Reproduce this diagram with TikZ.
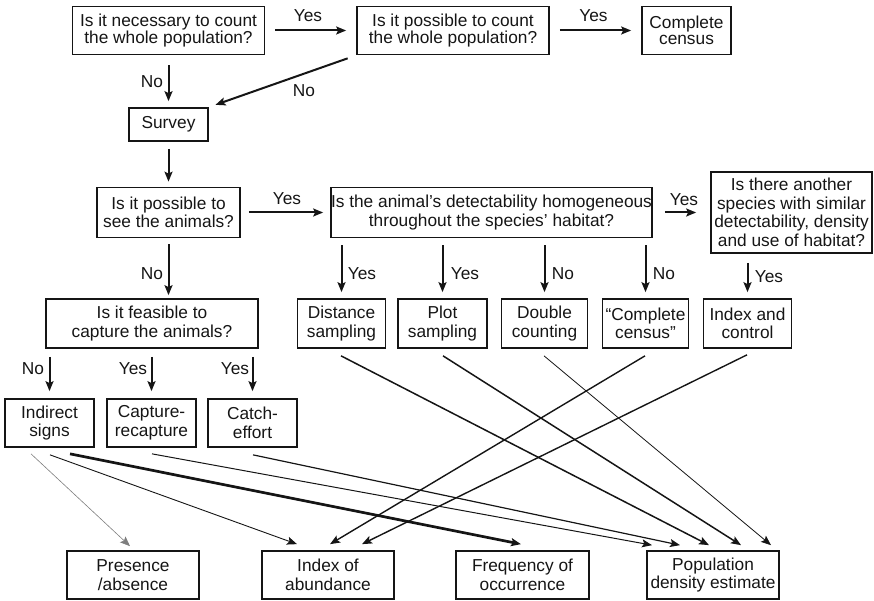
\documentclass[tikz,border=0pt]{standalone}
\usepackage{fontspec}
\setmainfont{Liberation Sans}
\usetikzlibrary{arrows.meta,calc}
\definecolor{ink}{HTML}{151515}
\begin{document}
\begin{tikzpicture}[x=1pt,y=-1pt,
  box/.style={draw=ink,line width=1.7pt,inner sep=0pt,align=center,text=ink,
    font=\fontsize{17.3}{18.5}\selectfont},
  topbox/.style={box,font=\fontsize{17.3}{16}\selectfont},
  tip/.style={-{Stealth[length=10pt,width=8pt,inset=2pt]}},
  arr/.style={draw=ink,line width=2pt,tip},
  cross/.style={draw=ink,tip},
  lbl/.style={text=ink,font=\fontsize{17.3}{18.5}\selectfont,inner sep=0pt}
]
\useasboundingbox (0,0) rectangle (874,601);

% top row
\node[topbox,minimum width=192pt,minimum height=48pt] (n1) at (168.5,30.5) {Is it necessary to count\\the whole population?};
\node[topbox,minimum width=192pt,minimum height=48pt] (n2) at (453,30.5) {Is it possible to count\\the whole population?};
\node[topbox,minimum width=89pt,minimum height=48pt] (cc) at (686.5,30.5) {Complete\\census};
\node[box,minimum width=79pt,minimum height=33pt] (survey) at (168.5,124.5) {Survey};

% second level
\node[box,minimum width=143pt,minimum height=50pt] (see) at (168.5,212.5) {Is it possible to\\see the animals?};
\node[box,minimum width=321pt,minimum height=50pt] (det) at (491.5,212.5) {Is the animal’s detectability homogeneous\\throughout the species’ habitat?};
\node[box,minimum width=161pt,minimum height=81pt] (another) at (791.5,212.5) {Is there another\\species with similar\\detectability, density\\and use of habitat?};

% third level
\node[box,minimum width=212pt,minimum height=49pt] (feasible) at (152,323.5) {Is it feasible to\\capture the animals?};
\node[box,minimum width=88pt,minimum height=49pt] (dist) at (341.5,323.5) {Distance\\sampling};
\node[box,minimum width=89pt,minimum height=49pt] (plot) at (442.5,323.5) {Plot\\sampling};
\node[box,minimum width=86pt,minimum height=49pt] (double) at (544.5,323.5) {Double\\counting};
\node[box,minimum width=86pt,minimum height=49pt] (ccq) at (645.5,323.5) {“Complete\\census”};
\node[box,minimum width=88pt,minimum height=49pt] (index) at (747.5,323.5) {Index and\\control};

% fourth level
\node[box,minimum width=89pt,minimum height=48pt] (indirect) at (49.5,423) {Indirect\\signs};
\node[box,minimum width=89pt,minimum height=48pt] (capture) at (151.5,423) {Capture-\\recapture};
\node[box,minimum width=89pt,minimum height=48pt] (catch) at (252.5,423) {Catch-\\effort};

% results
\node[box,minimum width=132pt,minimum height=48pt] (presence) at (133,575) {Presence\\/absence};
\node[box,minimum width=132pt,minimum height=48pt] (abundance) at (328,575) {Index of\\abundance};
\node[box,minimum width=133pt,minimum height=48pt] (freq) at (522.5,575) {Frequency of\\occurrence};
\node[box,minimum width=132pt,minimum height=48pt] (popdens) at (713,575) {Population\\density estimate};

% decision arrows
\draw[arr,shorten <=10pt,shorten >=10pt] (n1.east) -- (n2.west);
\draw[arr,shorten <=10pt,shorten >=10pt] (n2.east) -- (cc.west);
\draw[arr,shorten <=10pt,shorten >=6pt] (n1.south) -- (survey.north);
\draw[arr,shorten <=9pt,shorten >=7pt] (n2.south west) -- (survey.north east);
\draw[arr,shorten <=7pt,shorten >=5pt] (survey.south) -- (see.north);
\draw[arr,shorten <=8pt,shorten >=7pt] (see.east) -- (det.west);
\draw[arr,shorten <=12pt,shorten >=14pt] (det.east) -- (another.west);
\draw[arr,shorten <=9pt,shorten >=6pt] (another.south -| index) -- (index.north);
\draw[arr,shorten <=6pt,shorten >=3pt] (see.south) -- (see.south |- feasible.north);
\draw[arr,shorten <=7pt,shorten >=6pt] (det.south -| dist) -- (dist.north);
\draw[arr,shorten <=7pt,shorten >=6pt] (det.south -| plot) -- (plot.north);
\draw[arr,shorten <=7pt,shorten >=6pt] (det.south -| double) -- (double.north);
\draw[arr,shorten <=7pt,shorten >=6pt] (det.south -| ccq) -- (ccq.north);
\draw[arr,shorten <=8pt,shorten >=7pt] (feasible.south -| indirect) -- (indirect.north);
\draw[arr,shorten <=8pt,shorten >=7pt] (feasible.south -| capture) -- (capture.north);
\draw[arr,shorten <=8pt,shorten >=7pt] (feasible.south -| catch) -- (catch.north);

% labels
\node[lbl] (l1) at (308,16) {Yes};
\node[lbl] (l2) at (593.5,16) {Yes};
\node[lbl] (l3) at (152,82) {No};
\node[lbl] (l4) at (304,91) {No};
\node[lbl] (l5) at (287,199) {Yes};
\node[lbl] (l6) at (684,200) {Yes};
\node[lbl] (l7) at (152,274) {No};
\node[lbl] (l8) at (362,274) {Yes};
\node[lbl] (l9) at (465,274) {Yes};
\node[lbl] (l10) at (563,274) {No};
\node[lbl] (l11) at (664,274) {No};
\node[lbl] (l12) at (769,277) {Yes};
\node[lbl] (l13) at (33,369) {No};
\node[lbl] (l14) at (133,369) {Yes};
\node[lbl] (l15) at (235,369) {Yes};

% crossing connectors
\draw[cross,draw=ink!55,line width=0.6pt] ([xshift=-18.5pt,yshift=-6pt]indirect.south) -- ([xshift=-3pt,yshift=4pt]presence.north);
\draw[cross,line width=0.9pt] ([xshift=0.5pt,yshift=-7pt]indirect.south) -- ([xshift=-31pt,yshift=6pt]abundance.north);
\draw[cross,line width=2.7pt] ([xshift=20.5pt,yshift=-6pt]indirect.south) -- ([xshift=-1.5pt,yshift=6pt]freq.north);
\draw[cross,line width=1.0pt] ([xshift=0.5pt,yshift=-6pt]capture.south) -- ([xshift=-61pt,yshift=5pt]popdens.north);
\draw[cross,line width=1.2pt] ([xshift=0.5pt,yshift=-7pt]catch.south) -- ([xshift=-33pt,yshift=5pt]popdens.north);
\draw[cross,line width=1.5pt] ([xshift=-0.5pt,yshift=-7pt]dist.south) -- ([xshift=-4pt,yshift=5pt]popdens.north);
\draw[cross,line width=1.5pt] ([xshift=0.5pt,yshift=-7pt]plot.south) -- ([xshift=28pt,yshift=5pt]popdens.north);
\draw[cross,line width=0.8pt] ([xshift=-0.5pt,yshift=-7pt]double.south) -- ([xshift=58pt,yshift=5pt]popdens.north);
\draw[cross,line width=1.4pt] ([xshift=-0.5pt,yshift=-7pt]ccq.south) -- ([xshift=2pt,yshift=6pt]abundance.north);
\draw[cross,line width=1.4pt] ([xshift=-0.5pt,yshift=-6pt]index.south) -- ([xshift=34pt,yshift=6pt]abundance.north);
\end{tikzpicture}
\end{document}
